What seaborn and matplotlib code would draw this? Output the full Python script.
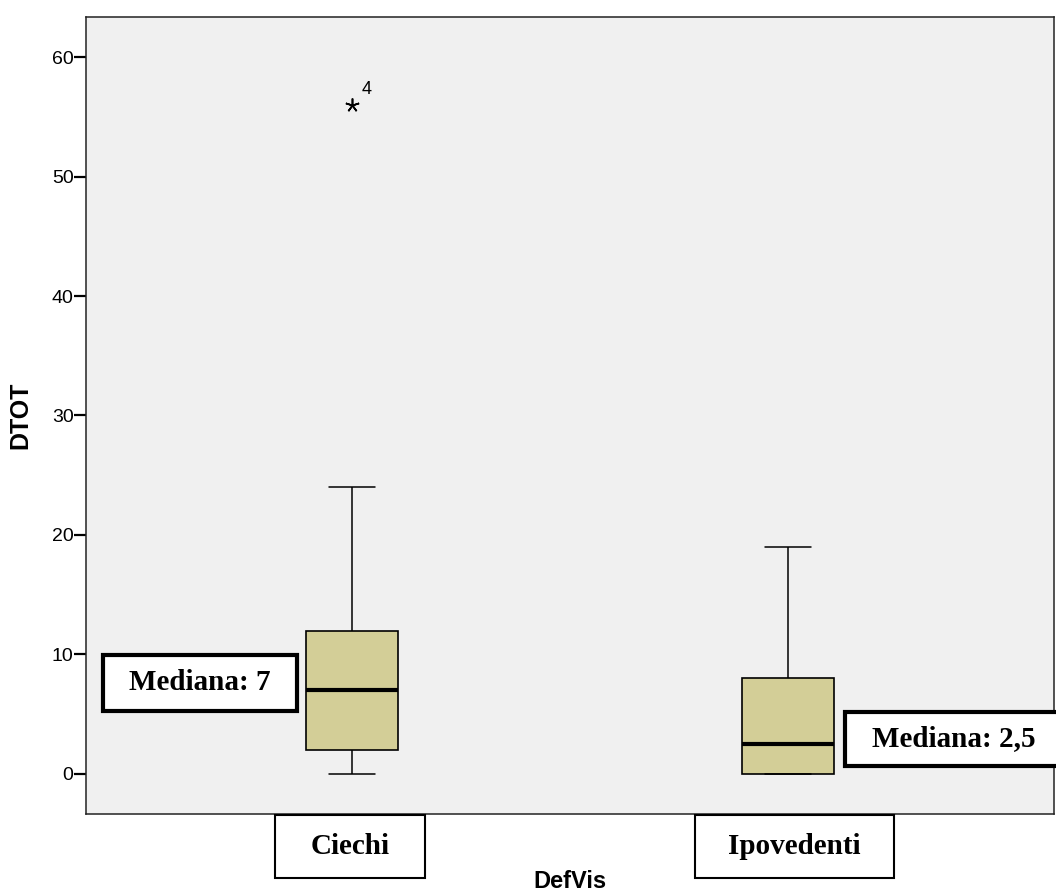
import numpy as np
import pandas as pd
import matplotlib
matplotlib.use("Agg")
import matplotlib.pyplot as plt
from matplotlib.patches import Rectangle
import seaborn as sns

# ---- data ----
categories = ["Ciechi", "Ipovedenti"]
ciechi_values = [0, 2, 2, 5, 7, 10, 12, 24, 56]
ipovedenti_values = [0, 0, 0, 0, 2, 3, 8, 8, 10, 19]
outlier_case_label = "4"
median_labels = ["Mediana: 7", "Mediana: 2,5"]
y_ticks = [0, 10, 20, 30, 40, 50, 60]

df = pd.DataFrame({
    "DefVis": [categories[0]] * len(ciechi_values) + [categories[1]] * len(ipovedenti_values),
    "DTOT": ciechi_values + ipovedenti_values,
})

sns.set_style("white")
plt.rcParams["font.family"] = ["Liberation Sans", "DejaVu Sans"]
for k in ["text.color", "axes.labelcolor", "xtick.color", "ytick.color"]:
    plt.rcParams[k] = "black"

W, H = 1056, 893
fig = plt.figure(figsize=(W / 100, H / 100), dpi=100)
fig.patch.set_facecolor("white")
ax = fig.add_axes([86 / W, 1 - 814 / H, (1054 - 86) / W, (814 - 17) / H])
ax.set_facecolor("#F0F0F0")

sns.boxplot(
    data=df, x="DefVis", y="DTOT", order=categories, ax=ax,
    color="#D3CE97", width=0.21, whis=1.5, saturation=1,
    boxprops=dict(facecolor="#D3CE97", edgecolor="black", linewidth=1.2),
    medianprops=dict(color="black", linewidth=3),
    whiskerprops=dict(color="black", linewidth=1.1),
    capprops=dict(color="black", linewidth=1.1),
    flierprops=dict(marker=(5, 2, 0), markersize=10, markeredgecolor="black",
                    markerfacecolor="black", markeredgewidth=1.2),
)

# outlier case label
out_val = max(ciechi_values)
ax.annotate(outlier_case_label, xy=(0, out_val), xytext=(7, 5), textcoords="offset points",
            fontsize=13, ha="left", va="bottom")

ax.set_xlim(-0.61, 1.61)
ax.set_ylim(-3.35, 63.35)
ax.set_yticks(y_ticks)
ax.set_yticklabels([str(t) for t in y_ticks])
ax.set_xticks([0, 1])
ax.set_xticklabels(["", ""])
ax.tick_params(axis="x", length=0)
ax.tick_params(axis="y", direction="out", length=8.5, width=1.6, pad=0.5,
               labelsize=14, left=True)
for s in ax.spines.values():
    s.set_visible(True)
    s.set_linewidth(1.1)
    s.set_color("#222222")

ax.set_xlabel("DefVis", fontsize=17, fontweight="bold")
ax.set_ylabel("DTOT", fontsize=18, fontweight="bold")
ax.xaxis.set_label_coords(0.5, -0.07)
ax.yaxis.set_label_coords(-0.055, 0.5)


def px_box(x0, y0, x1, y1, text, lw, fontsize):
    fx0, fx1 = x0 / W, x1 / W
    fy0, fy1 = 1 - y1 / H, 1 - y0 / H
    rect = Rectangle((fx0, fy0), fx1 - fx0, fy1 - fy0, transform=fig.transFigure,
                     facecolor="white", edgecolor="black", linewidth=lw, zorder=10)
    fig.add_artist(rect)
    fig.text((fx0 + fx1) / 2, (fy0 + fy1) / 2, text, ha="center", va="center",
             fontsize=fontsize, fontweight="bold", family=["Liberation Serif", "DejaVu Serif"],
             zorder=11)


px_box(103, 655, 297, 711, median_labels[0], 3, 21)
px_box(845, 712, 1062, 766, median_labels[1], 3, 21)
px_box(275, 815, 425, 878, categories[0], 1.5, 21)
px_box(695, 815, 894, 878, categories[1], 1.5, 21)

fig.savefig("out.png", dpi=100)
